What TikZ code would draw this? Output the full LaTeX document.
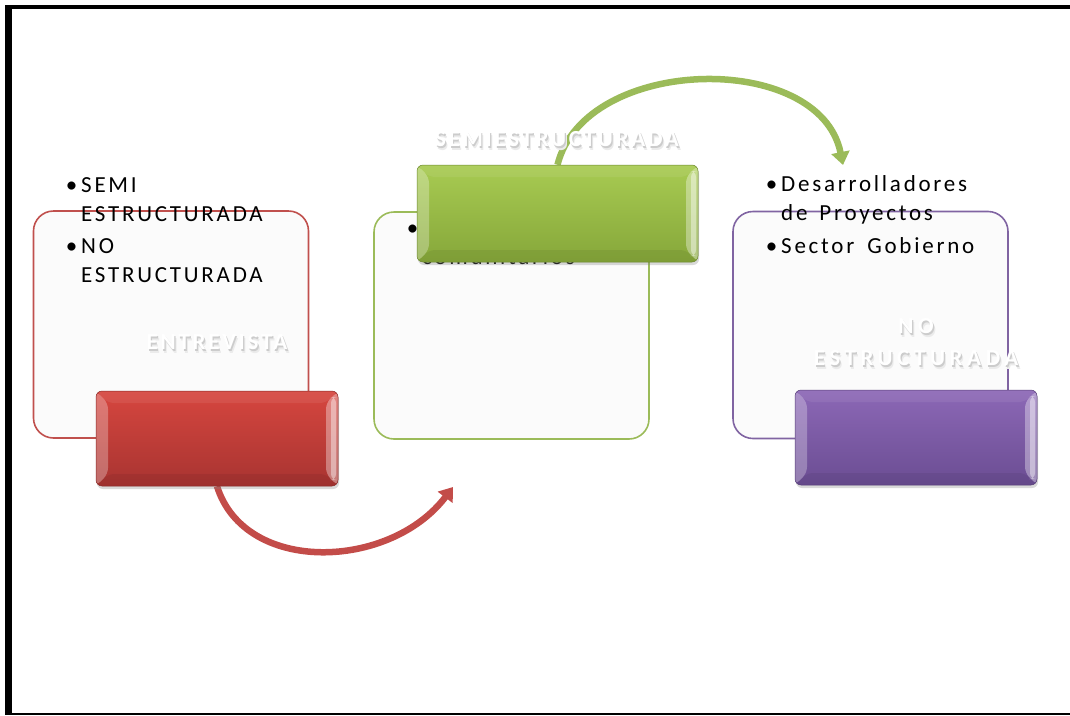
\documentclass[tikz,border=0pt]{standalone}
\usepackage{fontspec}
\setmainfont{Carlito}
\newfontfamily\bodyfont{Carlito}[LetterSpace=12.0]
\newfontfamily\titlefont{Carlito}[LetterSpace=12.0]
\newfontfamily\titlewidefont{Carlito}[LetterSpace=20.0]
\usetikzlibrary{shadows, arrows.meta, backgrounds}

\definecolor{panelred}{HTML}{C0504D}
\definecolor{panelgreen}{HTML}{9BBB59}
\definecolor{panelpurple}{HTML}{8064A2}
\definecolor{redtop}{HTML}{D6463F}
\definecolor{redbot}{HTML}{A83431}
\definecolor{greentop}{HTML}{A8CB52}
\definecolor{greenbot}{HTML}{86A73A}
\definecolor{purpletop}{HTML}{8C68B6}
\definecolor{purplebot}{HTML}{6B4D93}

\newcommand\softshadow[1]{\leavevmode
  \rlap{\hspace{2.2pt}\raisebox{-3.2pt}{\textcolor{black!8}{#1}}}%
  \rlap{\hspace{1.2pt}\raisebox{-2pt}{\textcolor{black!20}{#1}}}%
  \textcolor{white}{#1}}

\begin{document}
\begin{tikzpicture}[x=1pt, y=-1pt,
    panel/.style={draw=#1, line width=1.6pt, rounded corners=20pt, fill=white!98.5!black,
      inner sep=0pt, minimum width=275pt, minimum height=227pt},
    button/.style 2 args={draw=#2!80!black, line width=0.5pt, rounded corners=6pt,
      top color=#1, bottom color=#2, inner sep=0pt, minimum height=95pt,
      drop shadow={shadow xshift=1pt, shadow yshift=-3pt, opacity=0.3},
      path picture={
        \path (path picture bounding box.north west) coordinate (bnw)
              (path picture bounding box.north east) coordinate (bne)
              (path picture bounding box.south west) coordinate (bsw)
              (path picture bounding box.south east) coordinate (bse);
        \fill[white, opacity=0.28] (bnw) -- ([shift={(12pt,-12pt)}]bnw) -- ([shift={(12pt,12pt)}]bsw) -- (bsw) -- cycle;
        \fill[white, opacity=0.35] (bne) -- ([shift={(-12pt,-12pt)}]bne) -- ([shift={(-12pt,12pt)}]bse) -- (bse) -- cycle;
        \fill[white, opacity=0.4] ([shift={(-2pt,-6pt)}]bne) rectangle ([shift={(-7pt,6pt)}]bse);
        \fill[white, opacity=0.07] (bnw) -- (bne) -- ([shift={(-12pt,-12pt)}]bne) -- ([shift={(12pt,-12pt)}]bnw) -- cycle;
        \fill[black, opacity=0.06] (bsw) -- (bse) -- ([shift={(-12pt,12pt)}]bse) -- ([shift={(12pt,12pt)}]bsw) -- cycle;
      }},
    body/.style={anchor=base west, align=left, inner sep=0pt, font=\bodyfont\fontsize{23}{29}\selectfont},
    title/.style={align=center, inner sep=0pt, font=\titlefont\bfseries\fontsize{23}{32}\selectfont},
    arrowline/.style={line width=6.5pt, draw=#1, -{Triangle[width=18pt, length=13pt]}}
  ]
  \useasboundingbox (0,0) rectangle (1070,715);

  % frame
  \draw[line width=4pt] (5,7) -- (1070,7);
  \draw[line width=7pt] (8.5,5) -- (8.5,714.5);
  \draw[line width=2pt] (5,713.5) -- (1070,713.5);

  % panels
  \node[panel=panelred] (redpanel) at (171,324.5) {};
  \node[panel=panelgreen] (greenpanel) at (511.5,325.5) {};
  \node[panel=panelpurple] (purplepanel) at (870.5,325) {};

  % bullet texts (base = last line)
  \node[body] (semi) at (81,221) {\llap{•\,}SEMI\\ESTRUCTURADA};
  \node[body] (noest) at (81,282) {\llap{•\,}NO\\ESTRUCTURADA};
  \node[body] (comun) at (422,264) {\llap{•\,}\\comunitarios};
  \node[body] (desarr) at (781,220) {\llap{•\,}Desarrolladores\\de\hspace{4pt} Proyectos};
  \node[body] (sector) at (781,253) {\llap{•\,}Sector\hspace{5pt} Gobierno};

  % buttons
  \node[button={redtop}{redbot}, minimum width=242pt] (redbtn) at (217,438.5) {};
  \node[button={purpletop}{purplebot}, minimum width=242pt] (purplebtn) at (916,437.5) {};
  \node[button={greentop}{greenbot}, minimum width=281pt, minimum height=97pt] (greenbtn) at (557.5,213.5) {};

  % arrows
  \coordinate (redtip) at (453,487);
  \coordinate (greentip) at (843,165);
  \begin{pgfonlayer}{background}
    \draw[arrowline=panelred!95!red] (redbtn.south) .. controls (245,575) and (390,570) .. (redtip);
    \draw[arrowline=panelgreen] (greenbtn.north) .. controls (585,55) and (820,50) .. (greentip);
  \end{pgfonlayer}

  % titles
  \node[title] (entlbl) at (217,344) {\softshadow{ENTREVISTA}};
  \node[title] (semilbl) at (557,141) {\softshadow{SEMIESTRUCTURADA}};
  \node[title, font=\titlewidefont\bfseries\fontsize{23}{32}\selectfont] (nolbl) at (916,344)
    {\softshadow{NO}\\\softshadow{ESTRUCTURADA}};
\end{tikzpicture}
\end{document}
